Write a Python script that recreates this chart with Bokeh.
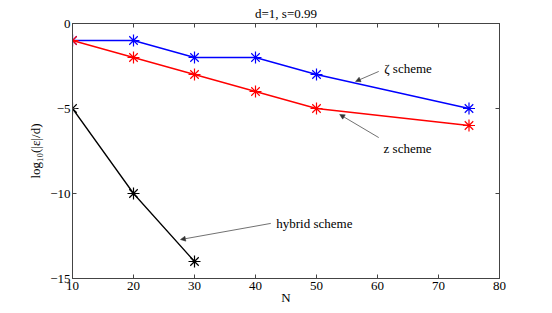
from bokeh.plotting import figure
from bokeh.models import LinearAxis, FixedTicker, Range1d, Arrow, NormalHead, Label
from bokeh.embed import file_html
from bokeh.resources import INLINE

# data
n_zeta = [10, 20, 30, 40, 50, 75]
err_zeta = [-1, -1, -2, -2, -3, -5]
n_z = [10, 20, 30, 40, 50, 75]
err_z = [-1, -2, -3, -4, -5, -6]
n_hybrid = [10, 20, 30]
err_hybrid = [-5, -10, -14]
x_ticks = [10, 20, 30, 40, 50, 60, 70, 80]
y_ticks = [0, -5, -10, -15]
y_tick_labels = {0: "0", -5: "\u22125", -10: "\u221210", -15: "\u221215"}

FONT = "Liberation Serif"
FS = "13px"
AX = "#444444"

p = figure(width=544, height=310, output_backend="svg", toolbar_location=None,
           x_range=Range1d(10, 80), y_range=Range1d(-15, 0),
           min_border_left=72, min_border_right=45, min_border_top=23, min_border_bottom=32,
           title="d=1, s=0.99")
p.title.align = "center"
p.title.text_font = FONT
p.title.text_font_size = FS
p.title.text_font_style = "normal"
p.title.text_color = "black"
p.title.standoff = 6
p.title.offset = 0

p.grid.visible = False
p.outline_line_color = AX
p.background_fill_color = "white"
p.border_fill_color = "white"

def style(ax):
    ax.axis_line_color = AX
    ax.major_tick_line_color = AX
    ax.major_tick_in = 4
    ax.major_tick_out = 0
    ax.minor_tick_line_color = None
    ax.major_label_text_font = FONT
    ax.major_label_text_font_size = FS
    ax.major_label_text_color = "black"
    ax.axis_label_text_font = FONT
    ax.axis_label_text_font_size = FS
    ax.axis_label_text_font_style = "normal"
    ax.axis_label_text_color = "black"

p.xaxis.ticker = FixedTicker(ticks=x_ticks)
p.yaxis.ticker = FixedTicker(ticks=y_ticks)
p.yaxis.major_label_overrides = y_tick_labels
p.xaxis.axis_label = "N"
p.yaxis.axis_label = "log\u2081\u2080(|\u03b5|/d)"
for ax in p.xaxis + p.yaxis:
    style(ax)
p.xaxis.major_label_standoff = 3
p.xaxis.axis_label_standoff = -3
p.yaxis.major_label_standoff = 2
p.yaxis.axis_label_standoff = 4

right = LinearAxis(ticker=FixedTicker(ticks=y_ticks))
right.major_label_overrides = {t: "" for t in y_ticks}
top = LinearAxis(ticker=FixedTicker(ticks=x_ticks))
top.major_label_overrides = {t: "" for t in x_ticks}
for ax in (right, top):
    style(ax)
    ax.major_label_standoff = 0
p.add_layout(right, "right")
p.add_layout(top, "above")

# series
p.line(n_zeta, err_zeta, line_color="blue", line_width=1.3)
p.scatter(n_zeta, err_zeta, marker="asterisk", size=12, line_color="blue", line_width=1.2)
p.line(n_z, err_z, line_color="red", line_width=1.3)
p.scatter(n_z, err_z, marker="asterisk", size=12, line_color="red", line_width=1.2)
p.line(n_hybrid, err_hybrid, line_color="black", line_width=1.3)
p.scatter(n_hybrid, err_hybrid, marker="asterisk", size=12, line_color="black", line_width=1.2)

# annotations
ARC = "#333333"
def arrow(x0, y0, x1, y1):
    p.add_layout(Arrow(x_start=x0, y_start=y0, x_end=x1, y_end=y1,
                       line_color=ARC, line_width=0.7,
                       end=NormalHead(size=5, line_color=ARC, fill_color=ARC, line_width=0.5)))

arrow(60.2, -2.82, 56.4, -3.41)
arrow(60.2, -6.71, 53.8, -5.35)
arrow(42.5, -11.76, 27.7, -12.71)

for tx, ty, t in [(61.1, -2.62, "\u03b6 scheme"), (61.0, -7.35, "z scheme"), (43.4, -11.76, "hybrid scheme")]:
    p.add_layout(Label(x=tx, y=ty, text=t, text_font=FONT, text_font_size=FS,
                       text_baseline="middle", text_align="left", text_color="black"))

open("out.html", "w").write(file_html(p, INLINE))
